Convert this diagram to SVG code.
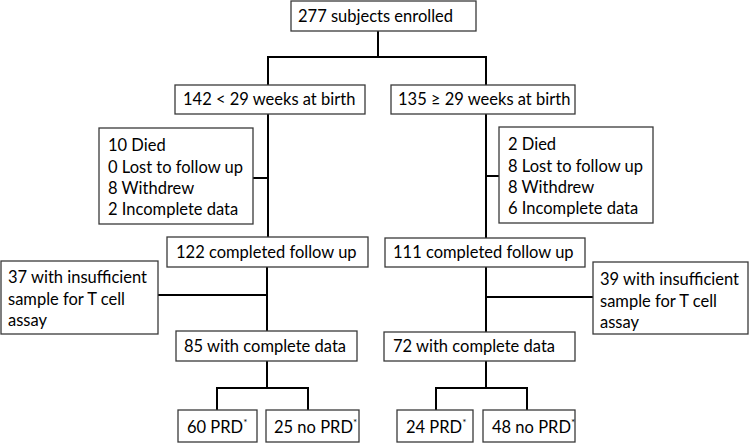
<svg xmlns="http://www.w3.org/2000/svg" width="751" height="443" viewBox="0 0 751 443">
<style>
.box{fill:#fff;stroke:#3a3a3a;stroke-width:1.3}
.t{font-family:Lato,"Liberation Sans",sans-serif;font-size:16.5px;fill:#000}
.sup{font-size:10px}
.c{fill:none;stroke:#000;stroke-width:2}
</style>
<rect width="751" height="443" fill="#fff"/>
<g id="connectors">
<path class="c" d="M378 31V57M268 57H486M268 56V85M486 56V85"/>
<path class="c" d="M268 114V237M253 178H268"/>
<path class="c" d="M486 114V238M486 176H499"/>
<path class="c" d="M267 267V331M158 295H267"/>
<path class="c" d="M486 267V332M486 297H593"/>
<path class="c" d="M267 361V388M216 388H309M217 387V410M308 387V410"/>
<path class="c" d="M486 361V388M435 388H528M436 387V410M527 387V410"/>
</g>
<g id="n277"><rect class="box" x="291" y="1" width="185" height="30"/><text class="t" x="298" y="22">277 subjects enrolled</text></g>
<g id="n142"><rect class="box" x="175" y="85" width="190" height="29"/><text class="t" x="183" y="105">142 &lt; 29 weeks at birth</text></g>
<g id="n135"><rect class="box" x="391" y="85" width="184" height="29"/><text class="t" x="398" y="105">135 ≥ 29 weeks at birth</text></g>
<g id="nLossL"><rect class="box" x="99" y="128" width="154" height="96"/><text class="t" x="108" y="151">10 Died</text><text class="t" x="108" y="173">0 Lost to follow up</text><text class="t" x="108" y="194">8 Withdrew</text><text class="t" x="108" y="215">2 Incomplete data</text></g>
<g id="nLossR"><rect class="box" x="499" y="127" width="154" height="96"/><text class="t" x="508" y="150">2 Died</text><text class="t" x="508" y="172">8 Lost to follow up</text><text class="t" x="508" y="193">8 Withdrew</text><text class="t" x="508" y="214">6 Incomplete data</text></g>
<g id="n122"><rect class="box" x="167" y="237" width="201" height="30"/><text class="t" x="176" y="258">122 completed follow up</text></g>
<g id="n111"><rect class="box" x="385" y="238" width="200" height="29"/><text class="t" x="393" y="258">111 completed follow up</text></g>
<g id="n37"><rect class="box" x="1" y="261" width="157" height="73"/><text class="t" x="8" y="283">37 with insufficient</text><text class="t" x="8" y="305">sample for T cell</text><text class="t" x="8" y="326">assay</text></g>
<g id="n39"><rect class="box" x="593" y="262" width="155" height="72"/><text class="t" x="600" y="285">39 with insufficient</text><text class="t" x="600" y="307">sample for T cell</text><text class="t" x="600" y="328">assay</text></g>
<g id="n85"><rect class="box" x="176" y="331" width="181" height="30"/><text class="t" x="184" y="352">85 with complete data</text></g>
<g id="n72"><rect class="box" x="384" y="332" width="191" height="29"/><text class="t" x="393" y="352">72 with complete data</text></g>
<g id="n60"><rect class="box" x="178" y="410" width="79" height="32"/><text class="t" x="187" y="433">60 PRD<tspan class="sup" dy="-7">*</tspan></text></g>
<g id="n25"><rect class="box" x="266" y="410" width="93" height="32"/><text class="t" x="274" y="433">25 no PRD<tspan class="sup" dy="-7">*</tspan></text></g>
<g id="n24"><rect class="box" x="397" y="410" width="76" height="32"/><text class="t" x="406" y="433">24 PRD<tspan class="sup" dy="-7">*</tspan></text></g>
<g id="n48"><rect class="box" x="483" y="410" width="92" height="32"/><text class="t" x="492" y="433">48 no PRD<tspan class="sup" dy="-7">*</tspan></text></g>
</svg>
